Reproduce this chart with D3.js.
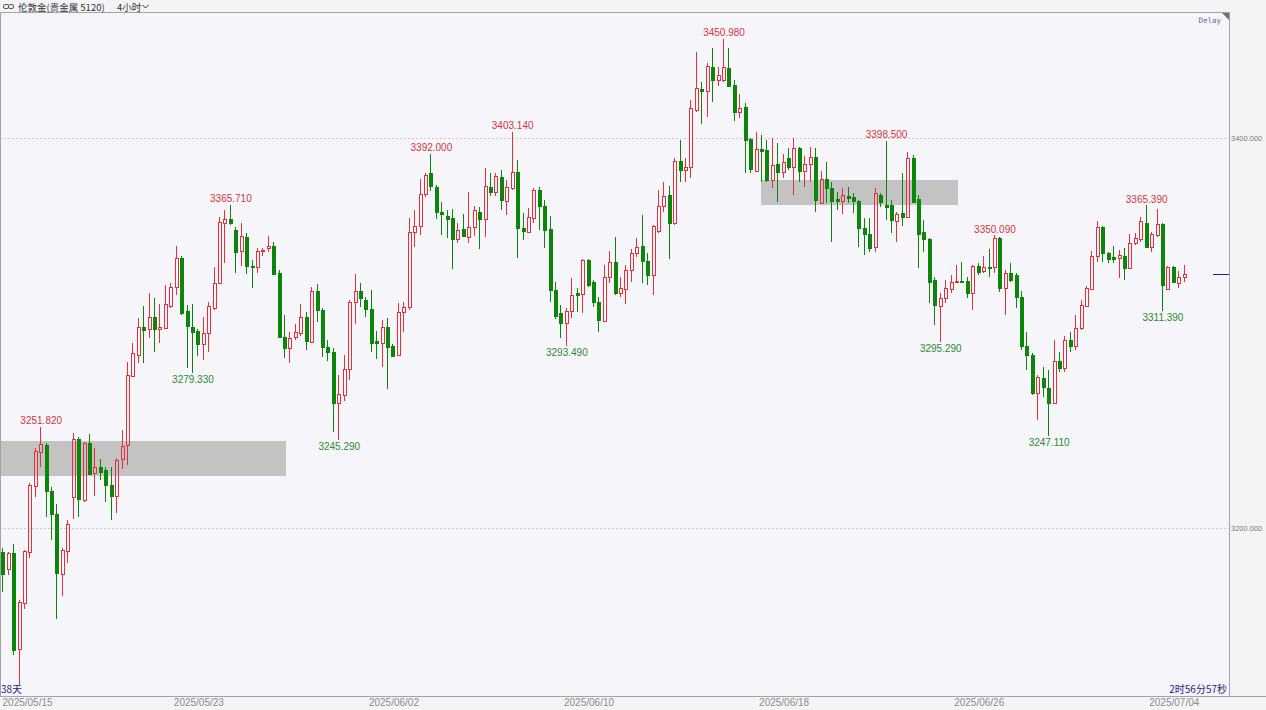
<!DOCTYPE html>
<html><head><meta charset="utf-8">
<script src="https://cdn.jsdelivr.net/npm/d3@7"></script>
<style>
html,body{margin:0;padding:0;background:#f5f5f8;}
svg{display:block;}
</style></head><body>
<svg id="c" width="1266" height="710"></svg>
<script>
// ---------- data ----------
const opens = [3187.7,3179.0,3187.2,3137.9,3161.5,3187.7,3221.5,3239.0,3242.6,3219.0,3207.2,3176.4,3188.2,3215.9,3245.6,3214.4,3243.6,3228.2,3231.3,3229.7,3222.1,3216.4,3235.4,3242.6,3278.0,3288.7,3303.1,3302.1,3308.2,3302.1,3302.6,3313.8,3323.6,3338.5,3311.3,3303.1,3301.0,3294.4,3300.0,3312.8,3325.6,3356.4,3358.5,3352.8,3342.1,3349.2,3334.4,3333.8,3342.1,3343.6,3344.6,3330.8,3298.0,3292.3,3298.0,3300.0,3308.2,3295.4,3321.5,3311.8,3292.8,3290.3,3264.1,3268.2,3281.5,3315.9,3321.5,3316.9,3312.3,3295.9,3294.9,3303.1,3293.3,3288.7,3310.8,3313.3,3351.8,3354.9,3371.3,3382.1,3374.9,3362.1,3360.0,3359.0,3348.2,3353.3,3349.2,3354.4,3362.1,3358.5,3374.9,3372.3,3380.0,3367.7,3374.4,3382.6,3353.8,3351.8,3359.0,3373.3,3365.1,3353.3,3322.1,3310.3,3305.1,3311.3,3320.5,3320.0,3337.4,3326.2,3315.9,3306.2,3328.7,3336.4,3320.5,3322.6,3332.3,3341.0,3344.6,3336.9,3329.7,3352.3,3365.1,3370.8,3356.4,3388.2,3383.6,3385.1,3414.4,3425.1,3424.1,3436.4,3429.7,3429.7,3435.9,3427.2,3413.3,3415.9,3399.5,3383.1,3394.4,3393.8,3378.5,3386.7,3382.6,3389.7,3385.1,3394.9,3383.1,3386.7,3390.3,3366.7,3379.0,3374.4,3368.7,3367.7,3370.3,3369.7,3367.7,3353.8,3350.8,3344.1,3370.8,3365.6,3365.6,3357.4,3361.5,3359.5,3389.7,3368.7,3351.8,3348.2,3327.2,3313.8,3317.9,3322.6,3326.2,3326.7,3326.7,3320.5,3334.4,3331.8,3333.8,3333.8,3348.7,3323.1,3330.8,3329.7,3318.5,3293.3,3288.7,3269.2,3276.9,3271.8,3264.1,3285.6,3282.1,3296.4,3293.3,3302.6,3313.8,3322.6,3339.5,3354.4,3341.0,3339.0,3338.5,3339.5,3333.3,3346.2,3348.2,3356.4,3344.1,3350.3,3355.9,3322.6,3333.8,3325.6,3328.7];
const highs = [3189.8,3187.7,3191.8,3163.1,3188.7,3223.1,3241.0,3251.82,3243.6,3221.0,3212.3,3189.8,3204.1,3248.7,3246.7,3244.1,3248.2,3241.0,3235.4,3231.3,3231.3,3235.9,3250.3,3285.1,3294.9,3307.7,3313.8,3320.5,3318.0,3314.9,3324.6,3325.6,3344.6,3339.5,3314.4,3314.9,3302.0,3308.2,3315.9,3333.8,3359.5,3363.1,3365.71,3354.4,3356.4,3351.3,3337.4,3343.6,3343.6,3349.7,3346.7,3332.3,3309.2,3300.5,3304.6,3314.9,3310.8,3323.6,3325.1,3312.8,3296.4,3292.3,3278.5,3288.7,3316.9,3330.3,3325.6,3318.5,3322.1,3301.0,3306.7,3307.7,3294.4,3315.4,3315.9,3359.0,3363.1,3379.0,3382.1,3392.0,3375.9,3367.2,3363.1,3363.6,3356.4,3361.0,3372.3,3365.1,3364.6,3384.6,3382.1,3382.1,3383.6,3378.5,3403.14,3388.7,3361.5,3364.1,3374.4,3374.9,3368.2,3360.0,3326.2,3314.4,3312.8,3328.2,3323.1,3338.0,3338.0,3327.2,3318.5,3334.9,3342.1,3349.2,3328.7,3334.9,3343.1,3348.7,3360.5,3341.0,3355.4,3373.3,3377.4,3375.4,3389.7,3399.0,3389.7,3419.5,3444.1,3428.7,3438.5,3446.2,3436.4,3450.98,3446.2,3429.7,3422.6,3417.9,3400.0,3403.1,3401.5,3399.0,3400.0,3397.4,3391.8,3394.9,3400.0,3395.5,3390.8,3395.4,3394.9,3383.1,3387.7,3377.4,3372.3,3374.4,3374.9,3371.8,3368.2,3359.0,3359.0,3374.4,3371.8,3398.5,3368.2,3362.1,3382.1,3392.8,3391.3,3370.8,3358.0,3348.7,3328.7,3320.5,3327.2,3329.7,3334.9,3336.4,3328.7,3334.9,3335.9,3339.5,3343.1,3350.09,3349.0,3332.3,3335.9,3330.8,3321.5,3300.5,3289.7,3278.5,3282.6,3281.0,3296.4,3290.3,3298.5,3300.5,3309.2,3316.9,3324.1,3342.1,3357.4,3354.9,3341.5,3344.6,3342.6,3343.6,3350.8,3351.3,3359.5,3365.39,3351.8,3363.6,3356.4,3334.4,3334.4,3331.8,3334.9];
const lows = [3167.2,3175.9,3134.9,3119.5,3158.5,3184.6,3215.9,3231.3,3205.6,3193.9,3153.3,3165.1,3182.1,3204.6,3205.6,3213.3,3227.2,3216.4,3224.6,3213.3,3204.1,3207.7,3230.3,3232.3,3277.4,3284.6,3284.6,3297.4,3290.3,3294.9,3302.1,3312.8,3319.5,3309.2,3282.1,3279.33,3288.2,3286.2,3290.3,3311.8,3325.0,3335.9,3355.4,3330.8,3334.4,3330.3,3323.1,3330.8,3339.5,3341.5,3329.7,3297.4,3287.2,3284.6,3296.4,3298.5,3291.3,3294.9,3305.6,3287.7,3285.6,3249.2,3245.29,3265.1,3275.9,3304.6,3313.3,3308.2,3290.3,3286.7,3282.6,3271.3,3287.7,3288.2,3300.5,3312.0,3344.1,3350.3,3369.7,3372.8,3358.5,3350.3,3348.7,3332.8,3346.2,3349.2,3346.2,3349.7,3343.1,3349.2,3370.3,3370.3,3363.1,3360.5,3373.3,3338.5,3347.7,3351.3,3356.4,3352.8,3343.6,3315.9,3307.2,3297.4,3293.49,3307.7,3310.8,3310.3,3323.6,3313.3,3300.5,3305.6,3325.6,3319.5,3318.5,3314.9,3326.2,3339.0,3325.6,3324.6,3319.5,3351.3,3362.1,3338.0,3355.4,3377.4,3377.4,3379.5,3413.3,3407.2,3410.8,3418.5,3426.7,3428.7,3426.2,3408.7,3410.3,3382.1,3382.1,3382.6,3377.4,3377.4,3374.4,3367.2,3379.5,3383.6,3370.8,3377.4,3374.9,3377.4,3362.1,3366.2,3366.7,3346.7,3363.1,3361.0,3366.7,3361.5,3344.1,3340.0,3341.5,3341.5,3364.6,3358.0,3351.3,3346.7,3354.9,3359.0,3366.7,3333.3,3341.5,3315.4,3304.1,3295.29,3315.4,3320.5,3325.6,3325.6,3318.0,3311.8,3329.7,3330.8,3328.7,3330.8,3321.0,3309.2,3326.2,3312.8,3291.3,3281.0,3268.2,3255.4,3267.2,3247.11,3263.6,3280.0,3280.0,3290.3,3291.3,3301.5,3313.3,3322.1,3336.4,3336.4,3335.9,3335.9,3328.2,3327.2,3332.8,3345.1,3346.7,3343.6,3341.5,3349.2,3311.39,3322.1,3325.6,3323.1,3326.2];
const closes = [3176.4,3187.2,3137.4,3162.0,3188.2,3222.1,3239.5,3243.1,3219.0,3207.2,3176.9,3188.7,3202.1,3245.6,3214.9,3243.6,3227.7,3231.3,3228.7,3222.1,3216.4,3234.9,3242.1,3278.5,3289.7,3303.1,3301.5,3308.2,3302.1,3303.1,3314.9,3323.6,3338.5,3310.3,3303.6,3300.5,3294.4,3300.0,3313.8,3325.6,3356.9,3358.5,3356.4,3341.5,3349.7,3334.4,3333.8,3342.1,3342.6,3344.6,3330.3,3298.0,3292.3,3297.4,3300.5,3308.2,3295.9,3321.5,3311.8,3292.8,3290.3,3264.1,3268.7,3281.5,3315.9,3321.5,3317.9,3312.3,3294.9,3294.9,3303.1,3292.8,3288.2,3310.8,3313.3,3351.8,3354.9,3371.3,3381.0,3375.4,3362.1,3361.0,3358.5,3348.2,3352.8,3349.7,3354.4,3363.1,3358.5,3375.4,3372.3,3380.5,3368.2,3374.9,3382.6,3353.8,3352.3,3359.5,3373.3,3365.1,3352.8,3322.1,3308.7,3305.1,3311.3,3319.5,3319.5,3337.4,3324.6,3315.9,3306.7,3328.7,3336.4,3320.5,3323.1,3332.3,3341.0,3344.1,3336.9,3329.7,3354.9,3365.1,3370.3,3356.4,3388.2,3383.6,3385.1,3415.4,3425.6,3424.1,3436.9,3429.7,3432.3,3436.4,3426.7,3413.3,3415.4,3399.0,3384.1,3394.4,3393.3,3378.5,3386.2,3382.6,3387.7,3385.1,3394.9,3383.1,3386.7,3390.3,3368.2,3379.0,3374.4,3367.7,3367.7,3370.8,3369.2,3367.7,3353.8,3350.8,3343.6,3371.8,3367.2,3364.6,3358.0,3361.0,3359.5,3389.7,3367.2,3350.8,3348.2,3326.2,3314.4,3317.9,3323.1,3326.2,3326.7,3326.2,3320.5,3334.4,3331.3,3333.8,3333.3,3348.7,3323.1,3330.8,3327.2,3318.5,3293.3,3288.7,3269.2,3277.4,3272.3,3264.1,3285.6,3282.1,3296.4,3293.3,3302.6,3314.4,3323.1,3339.5,3354.4,3341.0,3338.0,3338.0,3340.0,3333.3,3346.2,3348.7,3357.4,3344.1,3350.8,3355.9,3324.6,3333.8,3326.2,3328.7,3330.3];

const dateTicks = ["2025/05/15","2025/05/23","2025/06/02","2025/06/10","2025/06/18","2025/06/26","2025/07/04"];
const dateTickIndex = [0,36,72,108,144,180,216];
const priceTicks = [3200, 3400];

// highlighted zones (candle index span, price span)
const zoneStart = [-1, 139.9];
const zoneEnd = [52.2, 176.2];
const zoneTop = [3244.8, 3378.5];
const zoneBottom = [3226.7, 3365.6];

// extreme annotations
const markIndex = [7,35,42,62,79,94,104,133,163,173,183,193,211,214];
const markType  = ["H","L","H","L","H","H","L","H","H","L","H","L","H","L"];

const title = "伦敦金(贵金属 5120)";
const period = "4小时";
const leftNote = "38天";
const countdown = "2时56分57秒";

// ---------- layout ----------
const W = 1266, H = 710;
const plotL = 0, plotR = 1229, plotT = 12, plotB = 696;
const UP = "#e2303c", DOWN = "#0b860b";
const svg = d3.select("#c");

const x = d3.scaleLinear().domain([0, opens.length - 1]).range([3.3, 1184.6]);
const y = d3.scaleLinear().domain([3200, 3400]).range([528, 138]);

svg.append("rect").attr("x",0).attr("y",0).attr("width",W).attr("height",H).attr("fill","#f4f4f7");
svg.append("rect").attr("x",plotL).attr("y",plotT).attr("width",plotR-plotL).attr("height",plotB-plotT).attr("fill","#f5f5fa");

svg.append("defs").append("clipPath").attr("id","clip")
  .append("rect").attr("x",plotL+1).attr("y",plotT+1).attr("width",plotR-plotL-1).attr("height",plotB-plotT-1);
const plot = svg.append("g").attr("clip-path","url(#clip)");

// grid
plot.selectAll(".grid").data(priceTicks).join("line")
  .attr("x1",plotL).attr("x2",plotR)
  .attr("y1",d=>Math.round(y(d))+0.5).attr("y2",d=>Math.round(y(d))+0.5)
  .attr("stroke","#c9c9cf").attr("stroke-dasharray","2,2").attr("stroke-width",1);

// zones
plot.selectAll(".zone").data(zoneStart.map((s,i)=>i)).join("rect")
  .attr("x",i=>Math.round(x(zoneStart[i])))
  .attr("width",i=>Math.round(x(zoneEnd[i]))-Math.round(x(zoneStart[i])))
  .attr("y",i=>Math.round(y(zoneTop[i])))
  .attr("height",i=>Math.round(y(zoneBottom[i]))-Math.round(y(zoneTop[i])))
  .attr("fill","#c3c3c3");

// candles
const idx = d3.range(opens.length);
const g = plot.append("g");
idx.forEach(i=>{
  const o=opens[i], c=closes[i], h=highs[i], l=lows[i];
  const up = c >= o;
  const col = up ? UP : DOWN;
  const L = Math.round(x(i)) - 2;
  const cx = L + 1.5;
  const yt = Math.round(y(Math.max(o,c)));
  const yb = Math.round(y(Math.min(o,c)));
  const yh = Math.round(y(h)), yl = Math.round(y(l));
  if (yh < yt) g.append("line").attr("x1",cx).attr("x2",cx).attr("y1",yh).attr("y2",yt).attr("stroke",col);
  if (yl > yb) g.append("line").attr("x1",cx).attr("x2",cx).attr("y1",yb+1).attr("y2",yl).attr("stroke",col);
  if (yb - yt < 1) {
    g.append("line").attr("x1",L).attr("x2",L+4).attr("y1",yt+0.5).attr("y2",yt+0.5).attr("stroke",col);
  } else if (up) {
    g.append("rect").attr("x",L+0.5).attr("y",yt+0.5).attr("width",3).attr("height",yb-yt)
      .attr("fill","none").attr("stroke",col);
  } else {
    g.append("rect").attr("x",L).attr("y",yt).attr("width",4).attr("height",yb-yt+1).attr("fill",col);
  }
});

// annotations
plot.selectAll(".mark").data(markIndex.map((m,k)=>k)).join("text")
  .attr("x",k=>x(markIndex[k]))
  .attr("y",k=> markType[k]==="H" ? y(highs[markIndex[k]]) - 2.5 : y(lows[markIndex[k]]) + 10)
  .attr("text-anchor","middle")
  .attr("font-family","'Liberation Sans', Arial, sans-serif").attr("font-size",10)
  .attr("fill",k=> markType[k]==="H" ? "#d23640" : "#2d8a2d")
  .text(k=> (markType[k]==="H" ? highs[markIndex[k]] : lows[markIndex[k]]).toFixed(3));

// frame
svg.append("line").attr("x1",0).attr("x2",plotR).attr("y1",plotT+0.5).attr("y2",plotT+0.5).attr("stroke","#a3a3a8");
svg.append("line").attr("x1",plotR+0.5).attr("x2",plotR+0.5).attr("y1",plotT).attr("y2",plotB).attr("stroke","#a3a3a8");
svg.append("line").attr("x1",0).attr("x2",W).attr("y1",plotB+0.5).attr("y2",plotB+0.5).attr("stroke","#a3a3a8");
svg.append("line").attr("x1",0.5).attr("x2",0.5).attr("y1",plotT).attr("y2",plotB).attr("stroke","#a3a3a8");
svg.append("path").attr("d",`M${plotR-7},${plotT+1}L${plotR},${plotT+1}L${plotR},${plotT+8}Z`).attr("fill","#707070");

// right axis
const yAxis = d3.axisRight(y).tickValues(priceTicks).tickFormat(d3.format(".3f")).tickSize(0).tickPadding(2);
const ya = svg.append("g").attr("transform",`translate(${plotR},0)`).call(yAxis);
ya.select(".domain").remove();
ya.selectAll("text").attr("font-family","'Liberation Sans', Arial, sans-serif").attr("font-size",7.5).attr("fill","#7a7a7a");

// current price marker
const lastY = Math.round(y(closes[closes.length-1])) + 0.5;
svg.append("line").attr("x1",plotR-16).attr("x2",plotR).attr("y1",lastY).attr("y2",lastY).attr("stroke","#1f2a6a");

// bottom axis
const xAxis = d3.axisBottom(x).tickValues(dateTickIndex).tickFormat((d,i)=>dateTicks[i]).tickSize(0).tickPadding(3);
const xa = svg.append("g").attr("transform",`translate(0,${plotB})`).call(xAxis);
xa.select(".domain").remove();
xa.selectAll("text").attr("font-family","'Liberation Sans', Arial, sans-serif").attr("font-size",10).attr("fill","#8c8c8c")
  .attr("text-anchor",(d,i)=> i===0 ? "start" : "middle")
  .attr("dx",(d,i)=> i===0 ? (2 - x(d)) : 0);

// header
const hdr = svg.append("g");
hdr.append("rect").attr("x",3.5).attr("y",4.5).attr("width",5).attr("height",4).attr("rx",1.5).attr("fill","none").attr("stroke","#555");
hdr.append("rect").attr("x",8.5).attr("y",4.5).attr("width",5).attr("height",4).attr("rx",1.5).attr("fill","none").attr("stroke","#555");
hdr.append("text").attr("x",18).attr("y",10.5).attr("font-family","'Noto Sans CJK SC', sans-serif").attr("font-size",9.5).attr("fill","#333").text(title);
hdr.append("text").attr("x",117).attr("y",10.5).attr("font-family","'Noto Sans CJK SC', sans-serif").attr("font-size",9.5).attr("fill","#333").text(period);
hdr.append("path").attr("d","M142.5,5L145.5,8L148.5,5").attr("fill","none").attr("stroke","#333");

// notes
svg.append("text").attr("x",plotR-8).attr("y",23).attr("text-anchor","end")
  .attr("font-family","'DejaVu Sans Mono', monospace").attr("font-size",7.5).attr("fill","#5b6ea8").text("Delay");
svg.append("text").attr("x",1).attr("y",693).attr("font-family","'Noto Sans CJK SC', sans-serif").attr("font-size",10).attr("fill","#23277a").text(leftNote);
svg.append("text").attr("x",plotR-2).attr("y",693).attr("text-anchor","end").attr("font-family","'Noto Sans CJK SC', sans-serif").attr("font-size",10).attr("fill","#23277a").text(countdown);
</script>
</body></html>
